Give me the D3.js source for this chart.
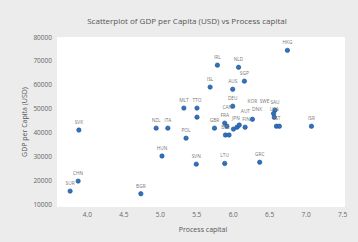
<!DOCTYPE html>
<html>
<head>
<meta charset="utf-8">
<script src="https://cdn.jsdelivr.net/npm/d3@7"></script>
<style>
  body { margin: 0; background: #ececec; }
  text { font-family: "Open Sans", "DejaVu Sans", sans-serif; }
</style>
</head>
<body>
<div id="chart"></div>
<script>
var countries = ["SUR", "CHN", "SVK", "BGR", "HUN", "NZL", "ITA", "POL", "MLT", "TTO", "", "SVN",
    "ISL", "IRL", "NLD", "SGP", "AUS", "DEU", "SAU", "HKG", "ISR", "GRC", "LTU",
    "GBR", "FRA", "JPN", "BEL", "", "AUT", "FIN", "CAN", "DNK", "KOR", "SWE", "USA", "EST", ""];
var processCapital = [3.77, 3.88, 3.89, 4.74, 5.03, 4.95, 5.11, 5.36, 5.33, 5.51, 5.51, 5.50,
    5.69, 5.79, 6.08, 6.16, 6.00, 6.00, 6.58, 6.75, 7.08, 6.37, 5.89,
    5.75, 5.89, 5.92, 5.90, 5.95, 6.01, 6.06, 6.09, 6.17, 6.27, 6.56, 6.57, 6.60, 6.64];
var gdpPerCapita = [15400, 19600, 41000, 14300, 30100, 41800, 41800, 37600, 50200, 50200, 46400, 26700,
    59000, 68200, 67300, 61500, 58100, 51000, 49300, 74400, 42600, 27500, 27000,
    41800, 43900, 42600, 38900, 38900, 41400, 42200, 43100, 42200, 45500, 47900, 46400, 42600, 42600];
var xTicks = [4.0, 4.5, 5.0, 5.5, 6.0, 6.5, 7.0, 7.5];
var yTicks = [10000, 20000, 30000, 40000, 50000, 60000, 70000, 80000];

function init() {
    var w = 358;
    var h = 242;
    var pLeft = 57, pRight = 345, pTop = 37, pBottom = 207;

    var svg = d3.select("#chart")
        .append("svg")
        .attr("width", w)
        .attr("height", h);

    svg.append("rect")
        .attr("x", 0).attr("y", 0)
        .attr("width", w).attr("height", h)
        .attr("fill", "#ececec");

    svg.append("rect")
        .attr("x", pLeft).attr("y", pTop)
        .attr("width", pRight - pLeft).attr("height", pBottom - pTop)
        .attr("fill", "#ffffff");

    var xScale = d3.scaleLinear()
        .domain([3.59, 7.54])
        .range([pLeft, pRight]);

    var yScale = d3.scaleLinear()
        .domain([8740, 80000])
        .range([pBottom, pTop]);

    // axes, labels only
    var xAxis = svg.append("g")
        .attr("transform", "translate(0," + pBottom + ")")
        .call(d3.axisBottom(xScale).tickValues(xTicks).tickFormat(d3.format(".1f")).tickSize(0).tickPadding(5));
    xAxis.select(".domain").remove();
    xAxis.selectAll("text").attr("font-size", 6.5).attr("fill", "#666");

    var yAxis = svg.append("g")
        .attr("transform", "translate(" + (pLeft - 4) + ",0)")
        .call(d3.axisLeft(yScale).tickValues(yTicks).tickFormat(d3.format("d")).tickSize(0).tickPadding(1));
    yAxis.select(".domain").remove();
    yAxis.selectAll("text").attr("font-size", 6.5).attr("fill", "#666");

    // title and axis titles
    svg.append("text")
        .attr("x", 187).attr("y", 24)
        .attr("text-anchor", "middle")
        .attr("font-size", 8)
        .attr("fill", "#555")
        .text("Scatterplot of GDP per Capita (USD) vs Process capital");

    svg.append("text")
        .attr("x", 203).attr("y", 232)
        .attr("text-anchor", "middle")
        .attr("font-size", 7)
        .attr("fill", "#555")
        .text("Process capital");

    svg.append("text")
        .attr("transform", "translate(27,122) rotate(-90)")
        .attr("text-anchor", "middle")
        .attr("font-size", 7)
        .attr("fill", "#555")
        .text("GDP per Capita (USD)");

    // points
    svg.selectAll(".dot")
        .data(d3.range(countries.length))
        .enter()
        .append("circle")
        .attr("class", "dot")
        .attr("cx", function (i) { return xScale(processCapital[i]); })
        .attr("cy", function (i) { return yScale(gdpPerCapita[i]); })
        .attr("r", 2.2)
        .attr("fill", "#2f72bd")
        .attr("stroke", "#1d5090")
        .attr("stroke-width", 0.6);

    // country labels
    var labels = svg.selectAll(".lbl")
        .data(d3.range(countries.length).filter(function (i) { return countries[i] !== ""; }))
        .enter()
        .append("text")
        .attr("class", "lbl")
        .attr("x", function (i) { return xScale(processCapital[i]); })
        .attr("y", function (i) { return yScale(gdpPerCapita[i]) - 6; })
        .attr("text-anchor", "middle")
        .attr("font-size", 4.8)
        .attr("fill", "#777")
        .text(function (i) { return countries[i]; });

    // nudge labels that collide with ones already placed
    var placed = [];
    var shifts = [[0, 0], [0, -5], [-9, 0], [9, 0], [-9, -5], [9, -5], [0, -10], [-12, -10], [12, -10]];
    function hits(b) {
        return placed.some(function (p) {
            return b.x < p.x + p.width && p.x < b.x + b.width && b.y < p.y + p.height && p.y < b.y + b.height;
        });
    }
    labels.each(function () {
        var t = d3.select(this);
        var x0 = +t.attr("x"), y0 = +t.attr("y");
        var box = this.getBBox();
        for (var k = 0; k < shifts.length; k++) {
            var b = { x: box.x + shifts[k][0], y: box.y + shifts[k][1], width: box.width, height: box.height };
            if (!hits(b)) {
                t.attr("x", x0 + shifts[k][0]).attr("y", y0 + shifts[k][1]);
                placed.push(b);
                return;
            }
        }
        placed.push(box);
    });
}

window.onload = init;
</script>
</body>
</html>
